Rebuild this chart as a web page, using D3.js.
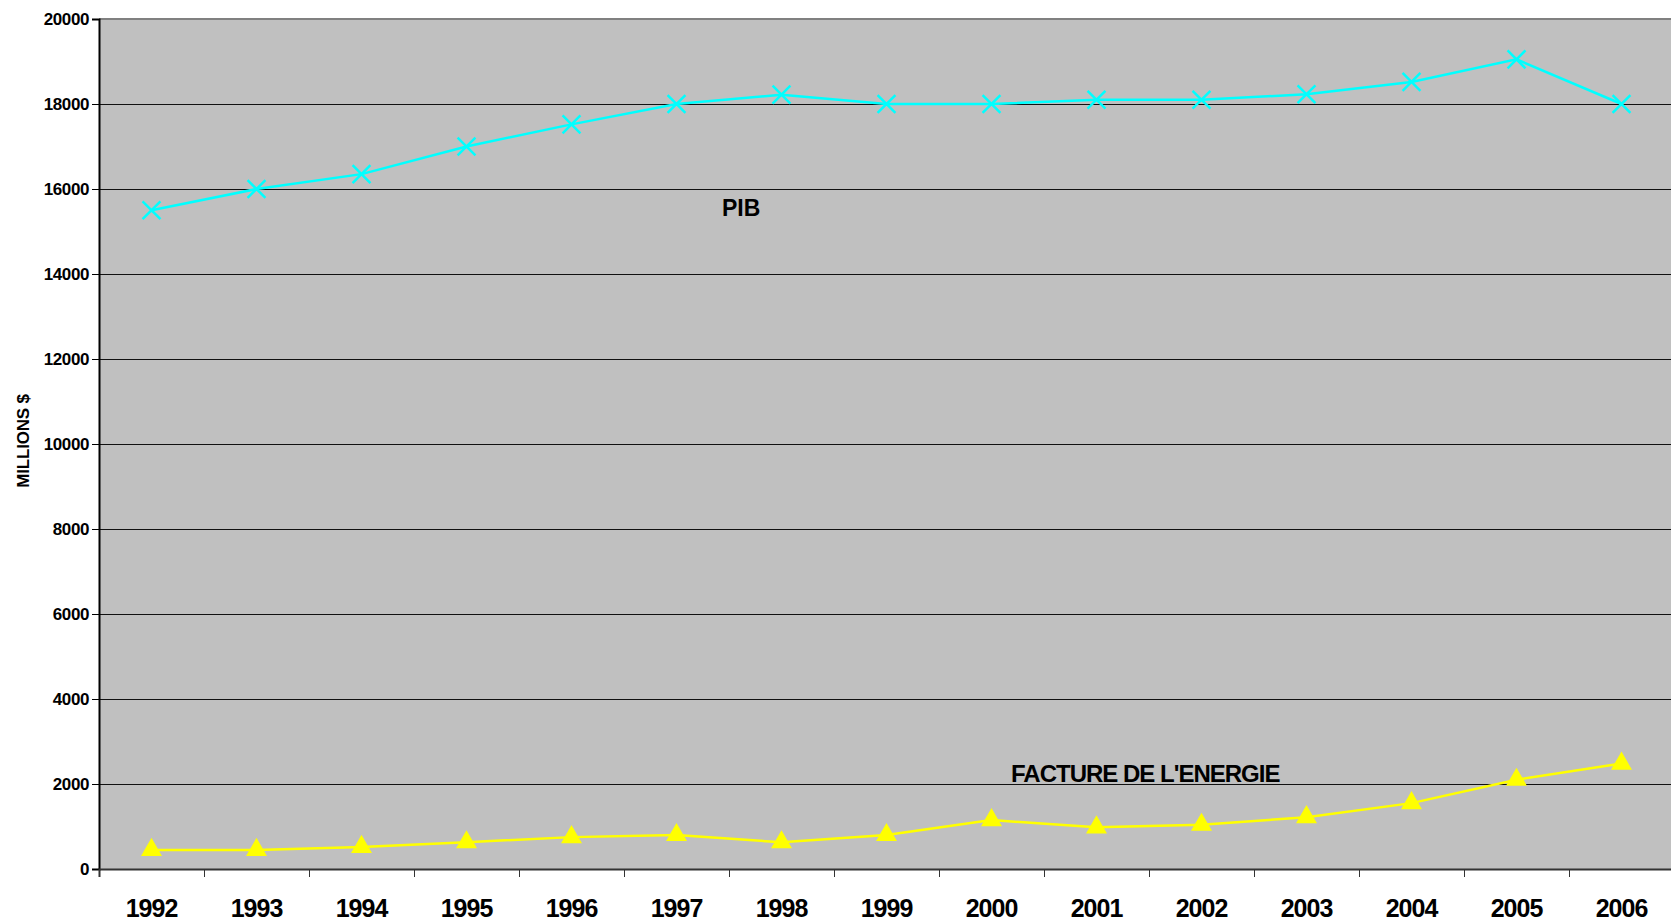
<!DOCTYPE html>
<html>
<head>
  <title>PIB et facture de l'energie</title>
<script src="https://d3js.org/d3.v7.min.js"></script>
  <style>
    body{
      margin: 0;
      background-color: white;
    }
    svg{
      display: block;
    }
    text{
      font-family: 'Liberation Sans', Arial, sans-serif;
      font-weight: bold;
      fill: black;
    }
    .tick-y text{
      font-size: 17px;
      letter-spacing: -0.4px;
    }
    .tick-x text{
      font-size: 25px;
      letter-spacing: -1px;
    }
  </style>
</head>
<body>
<svg id="chart"></svg>
<script type="text/javascript">

// data
var years = ["1992","1993","1994","1995","1996","1997","1998","1999","2000","2001","2002","2003","2004","2005","2006"];
var pib = [15500, 16000, 16350, 17000, 17520, 18000, 18220, 18000, 18000, 18100, 18100, 18230, 18520, 19050, 18000];
var energie = [450, 450, 520, 630, 750, 800, 630, 800, 1150, 980, 1040, 1220, 1550, 2100, 2480];
var yTicks = [0, 2000, 4000, 6000, 8000, 10000, 12000, 14000, 16000, 18000, 20000];

var width = 1671;
var height = 923;
var plotLeft = 99, plotRight = 1674, plotTop = 19, plotBottom = 869;

var svg = d3.select("#chart")
  .attr("width", width)
  .attr("height", height);

var x = d3.scaleBand().domain(years).range([plotLeft, plotRight]);
var xEdges = d3.scaleLinear().domain([0, years.length]).range([plotLeft, plotRight]);
var y = d3.scaleLinear().domain([0, 20000]).range([plotBottom, plotTop]);

// plot area
svg.append("rect")
  .attr("x", plotLeft).attr("y", plotTop)
  .attr("width", plotRight - plotLeft).attr("height", plotBottom - plotTop)
  .attr("fill", "#c0c0c0");

// grid
svg.selectAll(".grid")
  .data(yTicks.filter(function(d){ return d > 0 && d < 20000; }))
  .enter().append("line")
  .attr("class", "grid")
  .attr("x1", plotLeft).attr("x2", plotRight)
  .attr("y1", function(d){ return Math.round(y(d)) + 0.5; })
  .attr("y2", function(d){ return Math.round(y(d)) + 0.5; })
  .attr("stroke", "#111")
  .attr("stroke-width", 1);

// top border
svg.append("line")
  .attr("x1", plotLeft).attr("x2", plotRight)
  .attr("y1", plotTop).attr("y2", plotTop)
  .attr("stroke", "#808080").attr("stroke-width", 2);

// y axis
var yAxis = svg.append("g")
  .attr("class", "tick-y")
  .attr("transform", "translate(" + plotLeft + ",0)")
  .call(d3.axisLeft(y).tickValues(yTicks).tickSize(7).tickPadding(3).tickFormat(d3.format("d")));
yAxis.select(".domain").attr("stroke", "#000").attr("stroke-width", 2);
yAxis.selectAll(".tick line").attr("stroke", "#000");

// x axis: ticks between categories
var xAxisTicks = svg.append("g")
  .attr("transform", "translate(0," + plotBottom + ")")
  .call(d3.axisBottom(xEdges).tickValues(d3.range(0, years.length + 1)).tickSize(8).tickFormat(""));
xAxisTicks.select(".domain").attr("stroke", "#333").attr("stroke-width", 2);
xAxisTicks.selectAll(".tick line").attr("stroke", "#333");

// x labels
var xAxis = svg.append("g")
  .attr("class", "tick-x")
  .attr("transform", "translate(0," + plotBottom + ")")
  .call(d3.axisBottom(x).tickSize(0).tickPadding(30));
xAxis.select(".domain").remove();

// y title
svg.append("text")
  .attr("transform", "translate(29,441) rotate(-90)")
  .attr("text-anchor", "middle")
  .style("font-size", "17px")
  .style("letter-spacing", "-0.2px")
  .text("MILLIONS $");

// lines
var line = d3.line()
  .x(function(d, i){ return x(years[i]) + x.bandwidth() / 2; })
  .y(function(d){ return y(d); });

svg.append("path")
  .datum(pib)
  .attr("d", line)
  .attr("fill", "none")
  .attr("stroke", "#00ffff")
  .attr("stroke-width", 2.5);

svg.append("path")
  .datum(energie)
  .attr("d", line)
  .attr("fill", "none")
  .attr("stroke", "#ffff00")
  .attr("stroke-width", 2.5);

// markers
var cross = d3.symbol().type(d3.symbolX).size(210);
svg.selectAll(".m-pib")
  .data(pib)
  .enter().append("path")
  .attr("class", "m-pib")
  .attr("d", cross)
  .attr("transform", function(d, i){ return "translate(" + (x(years[i]) + x.bandwidth() / 2) + "," + y(d) + ")"; })
  .attr("fill", "none")
  .attr("stroke", "#00ffff")
  .attr("stroke-width", 2.5);

var tri = d3.symbol().type(d3.symbolTriangle).size(190);
svg.selectAll(".m-en")
  .data(energie)
  .enter().append("path")
  .attr("class", "m-en")
  .attr("d", tri)
  .attr("transform", function(d, i){ return "translate(" + (x(years[i]) + x.bandwidth() / 2) + "," + y(d) + ")"; })
  .attr("fill", "#ffff00");

// series labels
svg.append("text")
  .attr("x", 722).attr("y", 216)
  .style("font-size", "23px")
  .text("PIB");

svg.append("text")
  .attr("x", 1011).attr("y", 782)
  .style("font-size", "24px")
  .style("letter-spacing", "-1px")
  .text("FACTURE DE L'ENERGIE");

</script>
</body>
</html>
